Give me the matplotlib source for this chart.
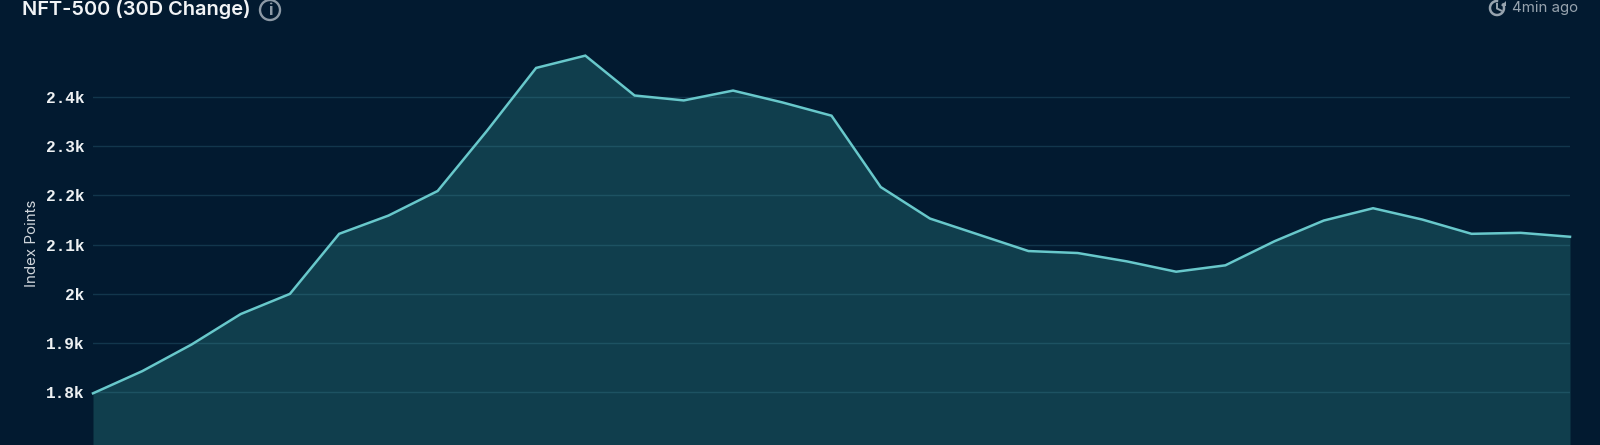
import matplotlib
matplotlib.use("Agg")
import matplotlib.pyplot as plt
from matplotlib.patches import Circle, Arc, Polygon
from matplotlib.ticker import FixedLocator, FixedFormatter

days = list(range(31))
index_points = [1798, 1843, 1897, 1959, 2000, 2122, 2159, 2209, 2331, 2459, 2484,
                2403, 2393, 2413, 2389, 2362, 2217, 2153, 2120, 2087, 2083, 2066,
                2045, 2058, 2107, 2149, 2174, 2151, 2122, 2124, 2116]
tick_values = [1800, 1900, 2000, 2100, 2200, 2300, 2400]
tick_labels = ["1.8k", "1.9k", "2k", "2.1k", "2.2k", "2.3k", "2.4k"]
title = "NFT-500 (30D Change)"
y_title = "Index Points"
updated = "4min ago"

BG = "#021a30"
W, H = 1600, 445
fig = plt.figure(figsize=(W / 100, H / 100), dpi=100, facecolor=BG)
ax = fig.add_axes([93 / W, 0, (1570 - 93) / W, 1], facecolor=BG)
ax.set_xlim(days[0], days[-1])
ax.set_ylim(1693, 2597)
for s in ax.spines.values():
    s.set_visible(False)
ax.fill_between(days, index_points, 1693, color="#103e4d", lw=0, zorder=1)
ax.plot(days, index_points, color="#68c8cb", lw=1.8, zorder=3, solid_joinstyle="miter", clip_on=False)
ax.yaxis.set_major_locator(FixedLocator(tick_values))
ax.yaxis.set_major_formatter(FixedFormatter(tick_labels))
ax.set_xticks([])
ax.tick_params(axis="y", length=0, pad=6, labelcolor="#eef1f3")
for t in ax.get_yticklabels():
    t.set_family("Liberation Mono")
    t.set_weight("bold")
    t.set_fontsize(11.6)
ax.grid(axis="y", color="#4f9db0", alpha=0.22, lw=1.0)
ax.set_axisbelow(False)

# overlay in pixel coordinates (y downwards)
ov = fig.add_axes([0, 0, 1, 1], facecolor="none")
ov.set_xlim(0, W)
ov.set_ylim(H, 0)
ov.axis("off")
ov.text(22, 9.5, title, color="#f2f4f6", fontsize=14.4, family="Inter", weight="semibold", va="center", ha="left")
ov.add_patch(Circle((270, 10), 10, fill=False, ec="#8c99a5", lw=1.7))
ov.text(270, 10.5, "i", color="#8c99a5", fontsize=12, family="Inter", weight="bold", va="center", ha="center")
ov.text(1578, 8, updated, color="#97a3ae", fontsize=10.8, family="Inter", va="center", ha="right")
ov.add_patch(Arc((1497, 8), 14, 14, theta1=-40, theta2=280, color="#97a3ae", lw=1.8))
ov.add_patch(Polygon([[1497, 3], [1497, 8.5], [1502, 11]], closed=False, fill=False, ec="#97a3ae", lw=1.4))
ov.add_patch(Polygon([[1506, 1], [1506, 6], [1501, 6]], closed=True, fc="#97a3ae", ec="none"))
ov.text(31.5, 243, y_title, color="#d0d6dc", fontsize=10.9, family="Inter", rotation=90, va="center", ha="center")

fig.savefig("out.png", dpi=100, facecolor=BG)
